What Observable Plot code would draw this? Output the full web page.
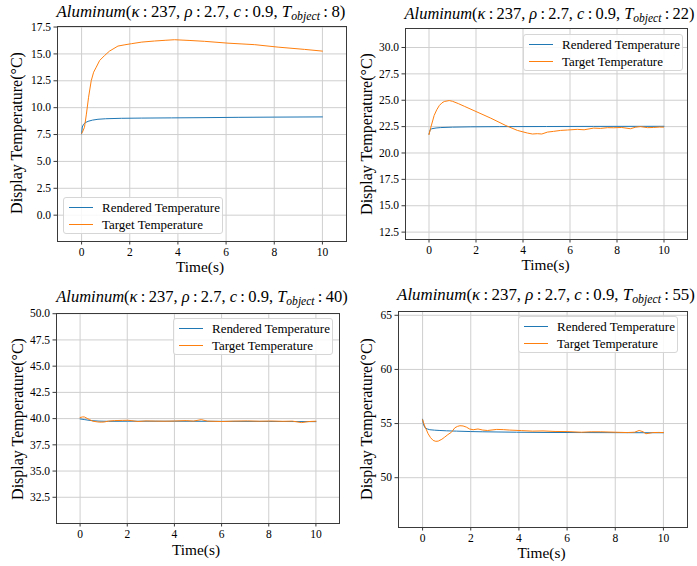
<!DOCTYPE html>
<html><head><meta charset="utf-8">
<script src="https://cdn.jsdelivr.net/npm/d3@7"></script>
<script src="https://cdn.jsdelivr.net/npm/@observablehq/plot@0.6"></script>
<style>
body{margin:0;background:#fff;}
#fig{position:relative;width:697px;height:566px;font-family:'Liberation Serif',serif;color:#000;overflow:hidden;background:#fff;}
.panel{position:absolute;}
.title,.xlab,.ylab{position:absolute;white-space:nowrap;line-height:1;font-family:'Liberation Serif',serif;font-weight:normal;}
.title{font-size:17px;}
.xlab{font-size:17px;}
.ylab{font-size:16px;}
.title sub{font-size:0.7em;vertical-align:-0.25em;}
.legend{position:absolute;border:1px solid #d6d6d6;border-radius:3px;background:rgba(255,255,255,0.85);box-sizing:border-box;}
.legend svg{position:absolute;left:0;top:0;}
.legend span{position:absolute;white-space:nowrap;font-size:13px;line-height:1;font-family:'Liberation Serif',serif;}
</style></head>
<body><div id="fig"></div>
<script>
// ---------------- data ----------------
const objectTemps = [8, 22, 40, 55];
const seriesNames = ["Rendered Temperature", "Target Temperature"];
const xTicks = [0, 2, 4, 6, 8, 10];

const p1RenderedTime = [0, 0.03, 0.08, 0.15, 0.27, 0.45, 0.68, 1.0, 1.65, 2.5, 3.73, 5.0, 6.5, 8.0, 10.0];
const p1RenderedTemp = [7.55, 8.2, 8.45, 8.6, 8.73, 8.84, 8.92, 8.97, 9.01, 9.03, 9.05, 9.07, 9.1, 9.12, 9.14];
const p1TargetTime = [0, 0.03, 0.12, 0.2, 0.29, 0.4, 0.5, 0.61, 0.75, 0.96, 1.16, 1.51, 1.8, 2.07, 2.5, 3.03, 3.5, 3.86, 4.5, 5.11, 6.08, 7.19, 8.16, 9.26, 10.0];
const p1TargetTemp = [7.6, 7.7, 8.17, 9.4, 10.97, 12.5, 13.3, 13.77, 14.39, 14.86, 15.26, 15.73, 15.85, 15.95, 16.1, 16.2, 16.27, 16.32, 16.25, 16.17, 16.0, 15.86, 15.63, 15.42, 15.26];
const p1Ticks = [0, 2.5, 5, 7.5, 10, 12.5, 15, 17.5];

const p2RenderedTime = [0, 0.05, 0.12, 0.3, 0.5, 1.0, 1.78, 3.0, 5.0, 7.0, 10.0];
const p2RenderedTemp = [21.8, 22.2, 22.3, 22.37, 22.41, 22.45, 22.48, 22.5, 22.51, 22.52, 22.53];
const p2TargetTime = [0, 0.08, 0.22, 0.33, 0.44, 0.55, 0.65, 0.86, 1.0, 1.25, 1.5, 2.0, 2.63, 3.27, 3.76, 4.19, 4.4, 4.61, 4.8, 5.04, 5.3, 5.6, 5.9, 6.31, 6.6, 7.01, 7.3, 7.6, 7.86, 8.2, 8.57, 8.8, 9.0, 9.3, 9.56, 9.8, 9.98];
const p2TargetTemp = [21.74, 22.45, 23.56, 24.1, 24.5, 24.75, 24.88, 24.97, 24.9, 24.68, 24.43, 23.93, 23.3, 22.6, 22.14, 21.89, 21.8, 21.83, 21.8, 21.98, 22.05, 22.14, 22.18, 22.24, 22.2, 22.36, 22.33, 22.4, 22.39, 22.42, 22.3, 22.45, 22.5, 22.4, 22.42, 22.46, 22.45];
const p2Ticks = [12.5, 15, 17.5, 20, 22.5, 25, 27.5, 30];

const p3RenderedTime = [0, 0.2, 0.47, 0.8, 1.2, 2, 4, 6, 8, 10];
const p3RenderedTemp = [39.97, 39.9, 39.81, 39.76, 39.74, 39.75, 39.75, 39.74, 39.73, 39.71];
const p3TargetTime = [0, 0.1, 0.18, 0.3, 0.4, 0.55, 0.75, 0.9, 1.03, 1.2, 1.46, 1.8, 2.03, 2.2, 2.45, 2.8, 3.2, 3.6, 4.0, 4.5, 4.8, 5.14, 5.4, 6.0, 6.5, 7.1, 7.6, 8.1, 8.6, 9.0, 9.39, 9.7, 10.0];
const p3TargetTemp = [40.1, 40.16, 40.16, 40.02, 39.9, 39.75, 39.68, 39.66, 39.68, 39.76, 39.81, 39.83, 39.84, 39.8, 39.72, 39.78, 39.76, 39.75, 39.77, 39.81, 39.76, 39.9, 39.76, 39.72, 39.76, 39.78, 39.75, 39.77, 39.74, 39.76, 39.62, 39.72, 39.75];
const p3Ticks = [32.5, 35, 37.5, 40, 42.5, 45, 47.5, 50];

const p4RenderedTime = [0, 0.03, 0.1, 0.2, 0.3, 0.5, 0.72, 1.0, 1.41, 2.0, 2.5, 3.9, 5.0, 6.6, 8.0, 10.0];
const p4RenderedTemp = [55.4, 54.95, 54.61, 54.5, 54.43, 54.39, 54.36, 54.33, 54.3, 54.26, 54.24, 54.2, 54.18, 54.17, 54.16, 54.15];
const p4TargetTime = [0, 0.05, 0.1, 0.23, 0.33, 0.44, 0.55, 0.65, 0.8, 0.92, 1.05, 1.2, 1.34, 1.45, 1.55, 1.68, 1.82, 1.95, 2.1, 2.3, 2.5, 2.7, 3.08, 3.35, 3.6, 4.1, 4.57, 5.0, 5.5, 6.0, 6.6, 7.0, 7.4, 8.0, 8.5, 8.8, 8.99, 9.15, 9.27, 9.4, 9.55, 9.8, 10.0];
const p4TargetTemp = [55.35, 55.0, 54.73, 54.06, 53.7, 53.44, 53.36, 53.38, 53.55, 53.75, 53.98, 54.2, 54.61, 54.74, 54.8, 54.78, 54.67, 54.5, 54.43, 54.5, 54.4, 54.36, 54.46, 54.44, 54.4, 54.35, 54.3, 54.32, 54.27, 54.26, 54.2, 54.24, 54.24, 54.2, 54.17, 54.2, 54.36, 54.25, 54.06, 54.1, 54.17, 54.18, 54.17];
const p4Ticks = [50, 55, 60, 65];

// ---------------- layout ----------------
const blue = "#1f77b4", orange = "#ff7f0e";
const serif = "'Liberation Serif', serif";
const panels = [
  {L:57, R:346, T:26, B:241, yDomain:[-2.45, 17.55], yTicks:p1Ticks, fmt:".1f",
   rt:p1RenderedTime, rv:p1RenderedTemp, tt:p1TargetTime, tv:p1TargetTemp,
   title:{cx:201, cy:13, w:289}, xlab:{cx:200, cy:267}, ylab:{cx:17, cy:133},
   leg:{x:63, y:197}},
  {L:405, R:687, T:28, B:239, yDomain:[11.8, 31.8], yTicks:p2Ticks, fmt:".1f",
   rt:p2RenderedTime, rv:p2RenderedTemp, tt:p2TargetTime, tv:p2TargetTemp,
   title:{cx:549.5, cy:15, w:290}, xlab:{cx:545.5, cy:265}, ylab:{cx:367, cy:133.5},
   leg:{x:523, y:34}},
  {L:56, R:339, T:313, B:523, yDomain:[30, 50.02], yTicks:p3Ticks, fmt:".1f",
   rt:p3RenderedTime, rv:p3RenderedTemp, tt:p3TargetTime, tv:p3TargetTemp,
   title:{cx:202, cy:298, w:291.5}, xlab:{cx:196, cy:549.5}, ylab:{cx:18, cy:419},
   leg:{x:173, y:318}},
  {L:398, R:687, T:311, B:527, yDomain:[45.4, 65.35], yTicks:p4Ticks, fmt:"d",
   rt:p4RenderedTime, rv:p4RenderedTemp, tt:p4TargetTime, tv:p4TargetTemp,
   title:{cx:546, cy:296, w:298}, xlab:{cx:541.5, cy:553}, ylab:{cx:367, cy:419},
   leg:{x:518, y:316}}
];

const fig = document.getElementById("fig");

function fitWidth(el, target) {
  const w = el.getBoundingClientRect().width;
  const fs = parseFloat(getComputedStyle(el).fontSize);
  el.style.fontSize = (fs * target / w) + "px";
}
function place(el, cx, cy, rotate) {
  el.style.left = cx + "px";
  el.style.top = cy + "px";
  el.style.transform = "translate(-50%,-50%)" + (rotate ? " rotate(-90deg)" : "");
}

panels.forEach((p, i) => {
  const ml = 52, mr = 6, mt = 6, mb = 22;
  const W = (p.R - p.L) + ml + mr, H = (p.B - p.T) + mt + mb;
  const rendered = p.rt.map((t, k) => ({t, v: p.rv[k]}));
  const target = p.tt.map((t, k) => ({t, v: p.tv[k]}));
  const chart = Plot.plot({
    width: W, height: H,
    marginLeft: ml, marginRight: mr, marginTop: mt, marginBottom: mb,
    style: {fontFamily: serif, fontSize: "11.5px", color: "#000", background: "transparent", overflow: "visible"},
    x: {domain: [-1, 11]},
    y: {domain: p.yDomain},
    marks: [
      Plot.gridX(xTicks, {stroke: "#cfcfcf", strokeOpacity: 1, strokeWidth: 1}),
      Plot.gridY(p.yTicks, {stroke: "#cfcfcf", strokeOpacity: 1, strokeWidth: 1}),
      Plot.line(rendered, {x: "t", y: "v", stroke: blue, strokeWidth: 1}),
      Plot.line(target, {x: "t", y: "v", stroke: orange, strokeWidth: 1}),
      Plot.frame({stroke: "#3a3a3a", strokeWidth: 1}),
      Plot.axisX(xTicks, {tickSize: 3.5, tickPadding: 3, tickFormat: d3.format("d"), label: null, stroke: "#3a3a3a"}),
      Plot.axisY(p.yTicks, {tickSize: 3.5, tickPadding: 3, tickFormat: d3.format(p.fmt), label: null, stroke: "#3a3a3a"})
    ]
  });
  chart.querySelectorAll("text").forEach(t => t.setAttribute("font-family", serif));
  const wrap = document.createElement("div");
  wrap.className = "panel";
  wrap.style.left = (p.L - ml) + "px";
  wrap.style.top = (p.T - mt) + "px";
  wrap.appendChild(chart);
  fig.appendChild(wrap);

  // title
  const title = document.createElement("div");
  title.className = "title";
  title.innerHTML = `<i>Aluminum</i>(<i>κ</i>&thinsp;:&thinsp;237, <i>ρ</i>&thinsp;:&thinsp;2.7, <i>c</i>&thinsp;:&thinsp;0.9, <i>T</i><sub><i>object</i></sub>&thinsp;:&thinsp;${objectTemps[i]})`;
  fig.appendChild(title);
  fitWidth(title, p.title.w);
  place(title, p.title.cx, p.title.cy);

  // x label
  const xl = document.createElement("div");
  xl.className = "xlab";
  xl.textContent = "Time(s)";
  fig.appendChild(xl);
  fitWidth(xl, 48);
  place(xl, p.xlab.cx, p.xlab.cy);

  // y label
  const yl = document.createElement("div");
  yl.className = "ylab";
  yl.textContent = "Display Temperature(°C)";
  fig.appendChild(yl);
  fitWidth(yl, 162);
  place(yl, p.ylab.cx, p.ylab.cy, true);

  // legend
  const lg = document.createElement("div");
  lg.className = "legend";
  lg.style.left = p.leg.x + "px";
  lg.style.top = p.leg.y + "px";
  lg.style.width = "160px";
  lg.style.height = "37px";
  lg.innerHTML = `<svg width="40" height="37"><line x1="5" x2="29" y1="9.5" y2="9.5" stroke="${blue}" stroke-width="1"/><line x1="5" x2="29" y1="26.5" y2="26.5" stroke="${orange}" stroke-width="1"/></svg>`;
  seriesNames.forEach((name, k) => {
    const s = document.createElement("span");
    s.textContent = name;
    lg.appendChild(s);
  });
  fig.appendChild(lg);
  const spans = lg.querySelectorAll("span");
  fitWidth(spans[0], 118);
  spans[1].style.fontSize = spans[0].style.fontSize;
  spans.forEach((s, k) => {
    s.style.left = "38px";
    s.style.top = (k === 0 ? 9.5 : 26.5) + "px";
    s.style.transform = "translateY(-50%)";
  });
});
</script></body></html>
